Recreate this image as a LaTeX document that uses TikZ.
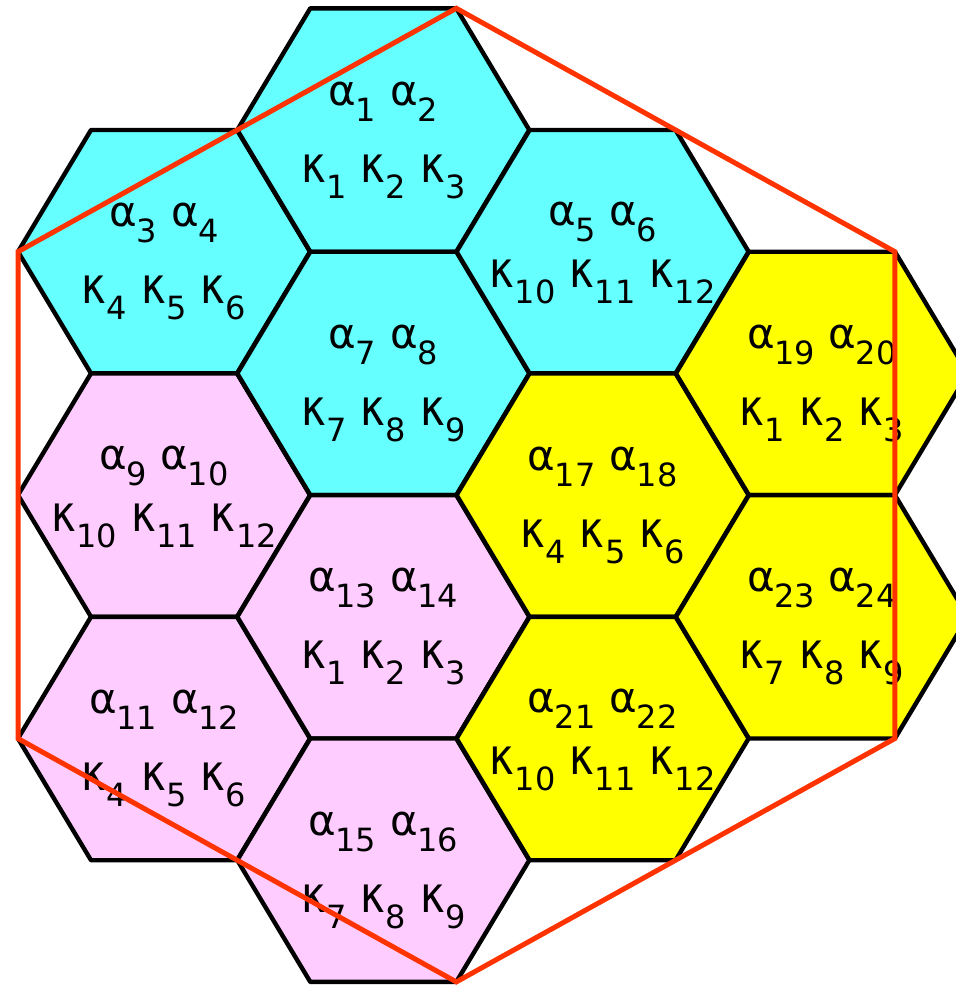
\documentclass[tikz,border=0pt]{standalone}
\usepackage{fontspec}
\setmainfont{DejaVu Sans}
\definecolor{hexcyan}{HTML}{66FFFF}
\definecolor{hexpink}{HTML}{FFCCFF}
\definecolor{hexyellow}{HTML}{FFFF00}
\definecolor{outline}{HTML}{FF3300}
\newcommand{\subnum}[1]{\raisebox{-8pt}{\fontsize{16}{16}\selectfont #1}}
\newcommand{\ga}[1]{α\kern-0.3pt\subnum{#1}}
\newcommand{\gk}[1]{\scalebox{1}[1.2]{κ}\kern0.2pt\subnum{#1}}
\newcommand{\gap}{\hspace{7pt}}
\newcommand{\hexcell}[4]{%
  \begin{scope}[shift={(#2,#3)}]
    \coordinate (#1) at (0,0);
    \coordinate (#1-r) at (146,0);
    \coordinate (#1-br) at (73,121.7);
    \coordinate (#1-bl) at (-73,121.7);
    \coordinate (#1-l) at (-146,0);
    \coordinate (#1-tl) at (-73,-121.7);
    \coordinate (#1-tr) at (73,-121.7);
  \end{scope}
  \path[hexedge, fill=#4] (#1-r) -- (#1-br) -- (#1-bl) -- (#1-l) -- (#1-tl) -- (#1-tr) -- cycle;
}
\begin{document}
\begin{tikzpicture}[x=0.5pt,y=-0.5pt,
  hexedge/.style={draw=black,line width=2.2pt,line join=round},
  lbl/.style={font=\fontsize{21}{21}\selectfont,inner sep=0pt,anchor=base},
  atop/.style={lbl,yshift=12.5pt},
  kbot/.style={lbl,yshift=-26pt},
  atopb/.style={lbl,yshift=13pt},
  kbotb/.style={lbl,yshift=-18pt},
  redline/.style={draw=outline,line width=2.5pt,line join=miter}]
\useasboundingbox (0,0) rectangle (956,985);
\clip (0,0) rectangle (956,985);
% column A
\hexcell{h3}{164}{251.7}{hexcyan}
\hexcell{h9}{164}{495.1}{hexpink}
\hexcell{h11}{164}{738.5}{hexpink}
% column B
\hexcell{h1}{383.3}{130}{hexcyan}
\hexcell{h7}{383.3}{373.4}{hexcyan}
\hexcell{h13}{383.3}{616.8}{hexpink}
\hexcell{h15}{383.3}{860.2}{hexpink}
% column C
\hexcell{h5}{602.6}{251.7}{hexcyan}
\hexcell{h17}{602.6}{495.1}{hexyellow}
\hexcell{h21}{602.6}{738.5}{hexyellow}
% column D
\hexcell{h19}{821.9}{373.4}{hexyellow}
\hexcell{h23}{821.9}{616.8}{hexyellow}
% labels
\node[atop] (h1-a) at (h1) {\ga{1}\gap\ga{2}};
\node[kbot] (h1-k) at (h1) {\gk{1}\gap\gk{2}\gap\gk{3}};
\node[atop] (h3-a) at (h3) {\ga{3}\gap\ga{4}};
\node[kbot] (h3-k) at (h3) {\gk{4}\gap\gk{5}\gap\gk{6}};
\node[atopb] (h5-a) at (h5) {\ga{5}\gap\ga{6}};
\node[kbotb] (h5-k) at (h5) {\gk{10}\gap\gk{11}\gap\gk{12}};
\node[atop] (h7-a) at (h7) {\ga{7}\gap\ga{8}};
\node[kbot] (h7-k) at (h7) {\gk{7}\gap\gk{8}\gap\gk{9}};
\node[atopb] (h9-a) at (h9) {\ga{9}\gap\ga{10}};
\node[kbotb] (h9-k) at (h9) {\gk{10}\gap\gk{11}\gap\gk{12}};
\node[atop] (h11-a) at (h11) {\ga{11}\gap\ga{12}};
\node[kbot] (h11-k) at (h11) {\gk{4}\gap\gk{5}\gap\gk{6}};
\node[atop] (h13-a) at (h13) {\ga{13}\gap\ga{14}};
\node[kbot] (h13-k) at (h13) {\gk{1}\gap\gk{2}\gap\gk{3}};
\node[atop] (h15-a) at (h15) {\ga{15}\gap\ga{16}};
\node[kbot] (h15-k) at (h15) {\gk{7}\gap\gk{8}\gap\gk{9}};
\node[atop] (h17-a) at (h17) {\ga{17}\gap\ga{18}};
\node[kbot] (h17-k) at (h17) {\gk{4}\gap\gk{5}\gap\gk{6}};
\node[atop] (h19-a) at (h19) {\ga{19}\gap\ga{20}};
\node[kbot] (h19-k) at (h19) {\gk{1}\gap\gk{2}\gap\gk{3}};
\node[atopb] (h21-a) at (h21) {\ga{21}\gap\ga{22}};
\node[kbotb] (h21-k) at (h21) {\gk{10}\gap\gk{11}\gap\gk{12}};
\node[atop] (h23-a) at (h23) {\ga{23}\gap\ga{24}};
\node[kbot] (h23-k) at (h23) {\gk{7}\gap\gk{8}\gap\gk{9}};
% red outline
\path[redline] (h1-tr) -- (h19-tr) -- (h23-br) -- (h15-br) -- (h11-l) -- (h3-l) -- cycle;
\end{tikzpicture}
\end{document}
